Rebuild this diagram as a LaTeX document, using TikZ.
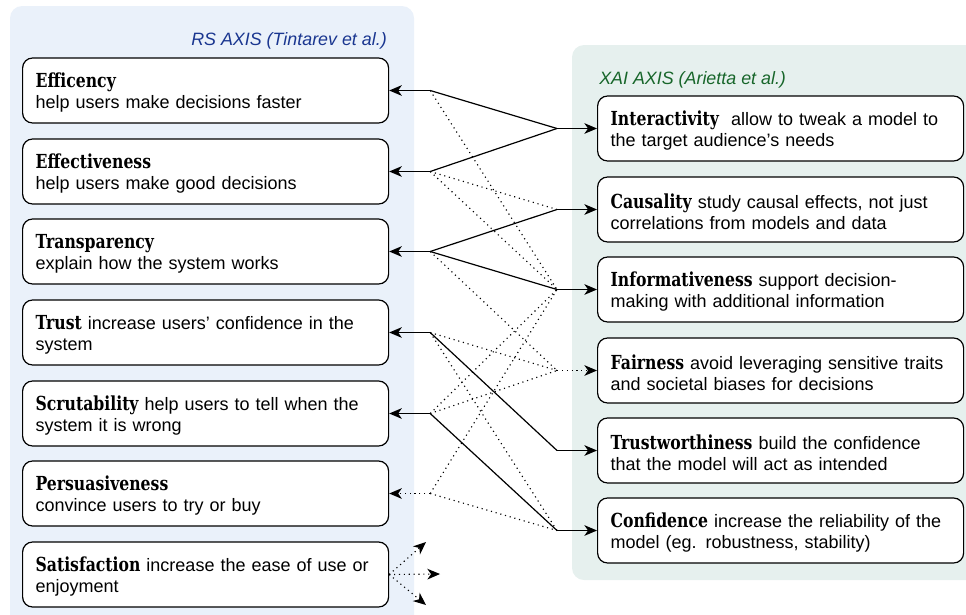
\documentclass[tikz,border=0pt]{standalone}
\usepackage{fontspec}
\setmainfont{Liberation Sans}
\newfontfamily\slabfont[FakeStretch=0.81]{DejaVu Serif}
\usetikzlibrary{arrows.meta,calc}
\definecolor{rsbg}{HTML}{EAF1FA}
\definecolor{xaibg}{HTML}{E6F0EE}
\definecolor{rsblue}{HTML}{1A3690}
\definecolor{xaigreen}{HTML}{17662A}
\newcommand\ttl[1]{\rule{0pt}{14.2pt}{\slabfont\bfseries\fontsize{14.5}{16.2}\selectfont #1}}
\begin{document}
\begin{tikzpicture}[x=0.75pt,y=-0.75pt,
  box/.style={draw=black, line width=0.9pt, fill=white, rounded corners=7.5pt,
    text width=255pt, inner xsep=9.75pt, inner ysep=0pt, minimum height=48.75pt,
    align=left, font=\fontsize{13.5}{16.2}\selectfont, anchor=west},
  con/.style={line width=0.9pt},
  dot/.style={line width=0.85pt, dash pattern=on 0.85pt off 2.8pt, draw=black},
  tip/.style={-{Stealth[length=9.5pt,width=8pt,inset=2.8pt]}},
  hdr/.style={inner sep=0pt, font=\fontsize{13.4}{15}\selectfont\itshape}
]
\useasboundingbox (0,0) rectangle (966,614);
\begin{scope}
\clip (0,0) rectangle (966,614);
\fill[rsbg, rounded corners=9pt] (10,6) rectangle (414,640);
\fill[xaibg, rounded corners=9pt] (572,45) rectangle (990,580);
\end{scope}

\node[hdr, anchor=base east, text=rsblue] (rsh) at (387,45) {RS AXIS (Tintarev et al.)};
\node[hdr, anchor=base west, text=xaigreen] (xh) at (599,84) {XAI AXIS (Arietta et al.)};

\node[box] (L1) at (22,90.5) {\ttl{Efficency}\\help users make decisions faster};
\node[box] (L2) at (22,171.5) {\ttl{Effectiveness}\\help users make good decisions};
\node[box] (L3) at (22,251.5) {\ttl{Transparency}\\explain how the system works};
\node[box] (L4) at (22,332.5) {\ttl{Trust} increase users' confidence in the\\system};
\node[box] (L5) at (22,413.5) {\ttl{Scrutability} help users to tell when the\\system it is wrong};
\node[box] (L6) at (22,493.5) {\ttl{Persuasiveness}\\convince users to try or buy};
\node[box] (L7) at (22,574.5) {\ttl{Satisfaction} increase the ease of use or\\enjoyment};

\node[box] (R1) at (597,128.5) {\ttl{Interactivity}\ \ allow to tweak a model to\\the target audience's needs};
\node[box] (R2) at (597,209.5) {\ttl{Causality} study causal effects, not just\\correlations from models and data};
\node[box] (R3) at (597,289.5) {\ttl{Informativeness} support decision-\\making with additional information};
\node[box] (R4) at (597,370.5) {\ttl{Fairness} avoid leveraging sensitive traits\\and societal biases for decisions};
\node[box] (R5) at (597,450.5) {\ttl{Trustworthiness} build the confidence\\that the model will act as intended};
\node[box] (R6) at (597,530.5) {\ttl{Confidence} increase the reliability of the\\model (eg. robustness, stability)};

\foreach \i in {1,...,6} {
  \coordinate (a\i) at ([xshift=30.75pt]L\i.east);
  \coordinate (b\i) at ([xshift=-30pt]R\i.west);
}
\coordinate (s1) at (426,542);
\coordinate (s2) at (440,574);
\coordinate (s3) at (426,605);

% arrows into left boxes
\foreach \i in {1,...,5} { \draw[con,tip] (a\i) -- (L\i.east); }
\draw[dot,tip] (a6) -- (L6.east);
% arrows into right boxes
\foreach \i in {1,2,3,5,6} { \draw[con,tip] (b\i) -- (R\i.west); }
\draw[dot,tip] (b4) -- (R4.west);

% solid links
\draw[con] (a1) -- (b1);
\draw[con] (a2) -- (b1);
\draw[con] (a3) -- (b2);
\draw[con] (a3) -- (b3);
\draw[con] (a4) -- (b5);
\draw[con] (a5) -- (b6);
% dotted links
\draw[dot] (a1) -- (b3);
\draw[dot] (a2) -- (b2);
\draw[dot] (a2) -- (b3);
\draw[dot] (a3) -- (b4);
\draw[dot] (a4) -- (b4);
\draw[dot] (a4) -- (b6);
\draw[dot] (a5) -- (b3);
\draw[dot] (a5) -- (b4);
\draw[dot] (a6) -- (b3);
\draw[dot] (a6) -- (b6);

% satisfaction
\draw[dot,tip] (L7.east) -- (s1);
\draw[dot,tip] (L7.east) -- (s2);
\draw[dot,tip] (L7.east) -- (s3);
\end{tikzpicture}
\end{document}
